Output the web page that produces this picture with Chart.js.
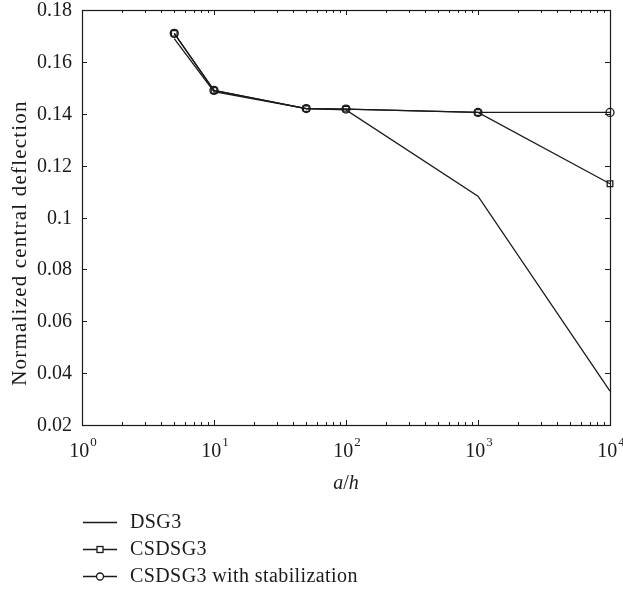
<!DOCTYPE html>
<html>
<head>
<meta charset="utf-8">
<script src="https://cdn.jsdelivr.net/npm/chart.js@4.4.1/dist/chart.umd.min.js"></script>
<style>
  html, body { margin: 0; padding: 0; background: #fff; }
  #wrap { width: 623px; height: 591px; }
</style>
</head>
<body>
<div id="wrap"><canvas id="defChart" width="623" height="591"></canvas></div>
<script>
// a/h values and normalized central deflection
let aOverH = [5, 10, 50, 100, 1000, 10000];
let dsg3 = [0.169, 0.1485, 0.142, 0.1415, 0.1082, 0.0331];
let csdsg3 = [0.171, 0.149, 0.142, 0.1418, 0.1405, 0.113];
let csdsg3Stab = [0.171, 0.149, 0.142, 0.1418, 0.1405, 0.1405];
let seriesNames = ['DSG3', 'CSDSG3', 'CSDSG3 with stabilization'];
let yTicks = [0.02, 0.04, 0.06, 0.08, 0.1, 0.12, 0.14, 0.16, 0.18];
let yTickLabels = ['0.02', '0.04', '0.06', '0.08', '0.1', '0.12', '0.14', '0.16', '0.18'];
let xDecades = [1, 10, 100, 1000, 10000];
let xExponents = ['0', '1', '2', '3', '4'];

const FONT = '"Liberation Serif", "DejaVu Serif", serif';
const INK = '#1a1a1a';

function pts(ys) {
  return aOverH.map((x, i) => ({ x: x, y: ys[i] }));
}

// frame, inward ticks, tick labels, axis titles and legend
const decorations = {
  id: 'decorations',
  afterDraw(chart) {
    const ctx = chart.ctx;
    const a = chart.chartArea;
    const xs = chart.scales.x;
    const ys = chart.scales.y;
    ctx.save();
    ctx.strokeStyle = INK;
    ctx.fillStyle = INK;
    ctx.lineWidth = 1.2;
    ctx.strokeRect(a.left + 0.5, a.top + 0.5, a.right - a.left, a.bottom - a.top);
    ctx.lineWidth = 1;

    // y ticks
    ctx.font = '20px ' + FONT;
    ctx.textAlign = 'right';
    ctx.textBaseline = 'middle';
    yTicks.forEach((v, i) => {
      const py = Math.round(ys.getPixelForValue(v)) + 0.5;
      ctx.beginPath();
      ctx.moveTo(a.left, py); ctx.lineTo(a.left + 5, py);
      ctx.moveTo(a.right, py); ctx.lineTo(a.right - 5, py);
      ctx.stroke();
      ctx.fillText(yTickLabels[i], a.left - 10, py);
    });

    // x ticks (major + minor)
    for (let d = 0; d < xDecades.length; d++) {
      const base = xDecades[d];
      const px = Math.round(xs.getPixelForValue(base)) + 0.5;
      ctx.beginPath();
      ctx.moveTo(px, a.bottom); ctx.lineTo(px, a.bottom - 5);
      ctx.moveTo(px, a.top); ctx.lineTo(px, a.top + 5);
      ctx.stroke();
      if (d < xDecades.length - 1) {
        for (let m = 2; m <= 9; m++) {
          const mx = Math.round(xs.getPixelForValue(base * m)) + 0.5;
          ctx.beginPath();
          ctx.moveTo(mx, a.bottom); ctx.lineTo(mx, a.bottom - 3);
          ctx.moveTo(mx, a.top); ctx.lineTo(mx, a.top + 3);
          ctx.stroke();
        }
      }
      // label 10^n
      ctx.textAlign = 'left';
      ctx.textBaseline = 'alphabetic';
      ctx.font = '20px ' + FONT;
      const w10 = ctx.measureText('10').width;
      ctx.font = '13px ' + FONT;
      const we = ctx.measureText(xExponents[d]).width;
      const x0 = px - (w10 + we) / 2;
      ctx.font = '20px ' + FONT;
      ctx.fillText('10', x0, a.bottom + 32);
      ctx.font = '13px ' + FONT;
      ctx.fillText(xExponents[d], x0 + w10 + 1, a.bottom + 21);
    }

    // x title a/h
    ctx.textBaseline = 'alphabetic';
    ctx.textAlign = 'left';
    ctx.font = 'italic 20px ' + FONT;
    const cx = (a.left + a.right) / 2;
    const wa = ctx.measureText('a').width;
    const wh = ctx.measureText('h').width;
    ctx.font = '20px ' + FONT;
    const ws = ctx.measureText('/').width;
    let tx = cx - (wa + ws + wh) / 2;
    const ty = a.bottom + 64;
    ctx.font = 'italic 20px ' + FONT;
    ctx.fillText('a', tx, ty);
    ctx.font = '20px ' + FONT;
    ctx.fillText('/', tx + wa, ty);
    ctx.font = 'italic 20px ' + FONT;
    ctx.fillText('h', tx + wa + ws, ty);

    // y title
    ctx.save();
    ctx.translate(20, 243);
    ctx.rotate(-Math.PI / 2);
    ctx.textAlign = 'center';
    ctx.textBaseline = 'middle';
    ctx.font = '21px ' + FONT;
    ctx.letterSpacing = '1.2px';
    ctx.fillText('Normalized central deflection', 0, 0);
    ctx.restore();

    // legend
    const rows = [522, 549, 576];
    chart.data.datasets.forEach((ds, i) => {
      const y = rows[i] + 0.5;
      ctx.strokeStyle = INK;
      ctx.lineWidth = 1.3;
      ctx.beginPath();
      ctx.moveTo(83, y); ctx.lineTo(117, y);
      ctx.stroke();
      if (ds.pointStyle === 'rect') {
        ctx.fillStyle = '#fff';
        ctx.fillRect(97, y - 3, 6, 6);
        ctx.strokeRect(97, y - 3, 6, 6);
      } else if (ds.pointStyle === 'circle') {
        ctx.fillStyle = '#fff';
        ctx.beginPath();
        ctx.arc(100, y, 3.5, 0, Math.PI * 2);
        ctx.fill();
        ctx.stroke();
      }
      ctx.fillStyle = INK;
      ctx.font = '20px ' + FONT;
      ctx.letterSpacing = '0.4px';
      ctx.textAlign = 'left';
      ctx.textBaseline = 'middle';
      ctx.fillText(ds.label, 130, y);
      ctx.letterSpacing = '0px';
    });
    ctx.restore();
  }
};

const ctx = document.getElementById('defChart').getContext('2d');
const chart = new Chart(ctx, {
  type: 'line',
  data: {
    datasets: [
      {
        label: seriesNames[0],
        data: pts(dsg3),
        borderColor: INK,
        borderWidth: 1.3,
        pointRadius: 0,
        pointStyle: false,
        tension: 0,
        clip: false
      },
      {
        label: seriesNames[1],
        data: pts(csdsg3),
        borderColor: INK,
        borderWidth: 1.3,
        pointStyle: 'rect',
        pointRadius: 4,
        pointBorderWidth: 1.3,
        pointBackgroundColor: 'rgba(255,255,255,0)',
        pointBorderColor: INK,
        tension: 0,
        clip: false
      },
      {
        label: seriesNames[2],
        data: pts(csdsg3Stab),
        borderColor: INK,
        borderWidth: 1.3,
        pointStyle: 'circle',
        pointRadius: 4,
        pointBorderWidth: 1.3,
        pointBackgroundColor: 'rgba(255,255,255,0)',
        pointBorderColor: INK,
        tension: 0,
        clip: false
      }
    ]
  },
  options: {
    responsive: false,
    animation: false,
    layout: { padding: { left: 82, right: 13, top: 10, bottom: 166 } },
    plugins: { legend: { display: false }, tooltip: { enabled: false } },
    scales: {
      x: {
        type: 'logarithmic',
        min: 1,
        max: 10000,
        ticks: { display: false },
        grid: { display: false },
        border: { display: false },
        afterFit: s => { s.height = 0; }
      },
      y: {
        type: 'linear',
        min: 0.02,
        max: 0.18,
        ticks: { display: false, stepSize: 0.02 },
        grid: { display: false },
        border: { display: false },
        afterFit: s => { s.width = 0; }
      }
    }
  },
  plugins: [decorations]
});
</script>
</body>
</html>
